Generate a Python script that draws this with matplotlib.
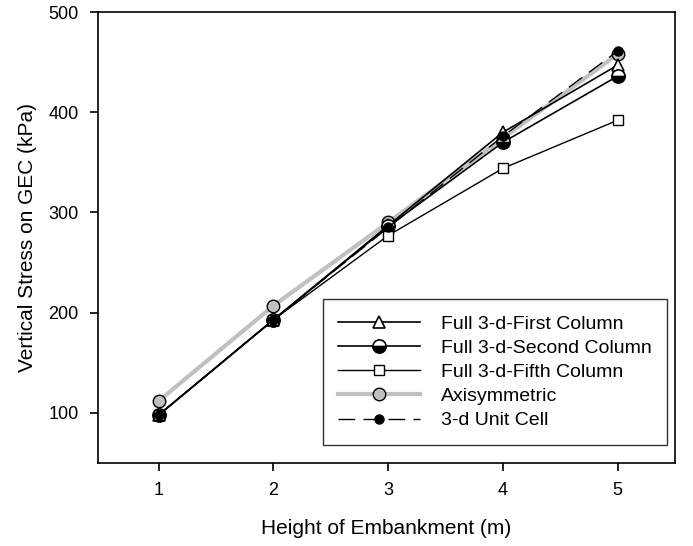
import matplotlib.pyplot as plt
import numpy as np

plt.rcParams['font.family'] = ['Liberation Sans', 'DejaVu Sans']

height = [1, 2, 3, 4, 5]
first_col = [98, 193, 287, 380, 447]
second_col = [98, 193, 286, 370, 436]
fifth_col = [98, 193, 277, 344, 392]
axisym = [112, 207, 290, 374, 458]
unit_cell = [98, 193, 285, 376, 461]

fig = plt.figure(figsize=(6.93, 5.46), dpi=100)
ax = fig.add_axes([0.1414, 0.152, 0.8326, 0.826])

ax.plot(height, first_col, color='black', lw=1.2, marker='^', ms=8,
        mfc='white', mec='black', mew=1.2, label='Full 3-d-First Column', zorder=3)
ax.plot(height, second_col, color='black', lw=1.2, marker='o', ms=9.5,
        fillstyle='bottom', mfc='black', mfcalt='white', mec='black', mew=1.2,
        label='Full 3-d-Second Column', zorder=3)
ax.plot(height, fifth_col, color='black', lw=1.0, marker='s', ms=7.5,
        mfc='white', mec='black', mew=1.0, label='Full 3-d-Fifth Column', zorder=3)
ax.plot(height, axisym, color='#c0c0c0', lw=3, marker='o', ms=9,
        mfc='#c0c0c0', mec='black', mew=1.0, label='Axisymmetric', zorder=2)
ax.plot(height, unit_cell, color='black', lw=1.0, dashes=(12, 6), marker='o', ms=6.5,
        mfc='black', mec='black', label='3-d Unit Cell', zorder=4)

ax.set_xlim(0.47, 5.5)
ax.set_ylim(50, 500)
ax.set_xticks([1, 2, 3, 4, 5])
ax.set_yticks([100, 200, 300, 400, 500])
ax.tick_params(direction='out', length=6, width=1.2, labelsize=13, pad=8,
               top=False, right=False)
for s in ax.spines.values():
    s.set_linewidth(1.2)

ax.set_xlabel('Height of Embankment (m)', fontsize=15, labelpad=14)
ax.set_ylabel('Vertical Stress on GEC (kPa)', fontsize=15, labelpad=8)

leg = ax.legend(loc='lower right', bbox_to_anchor=(0.987, 0.04), fontsize=14,
                handlelength=4.2, frameon=True, fancybox=False, edgecolor='black',
                borderpad=0.8, labelspacing=0.34, handletextpad=1.1, borderaxespad=0)
leg.get_frame().set_linewidth(1.0)

fig.savefig('out.png', dpi=100)
